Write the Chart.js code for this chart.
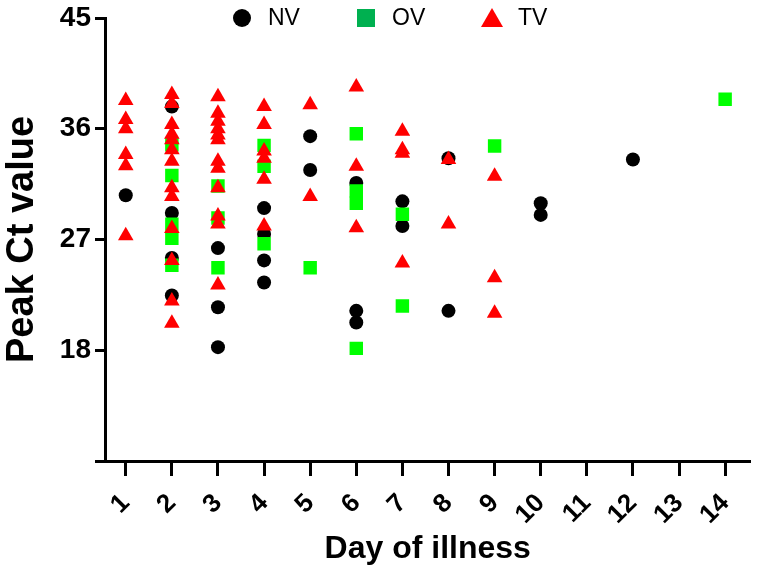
<!DOCTYPE html>
<html>
<head>
<meta charset="utf-8">
<script src="https://cdn.jsdelivr.net/npm/chart.js@4.4.1/dist/chart.umd.min.js"></script>
<style>
  html, body { margin: 0; padding: 0; background: #fff; }
</style>
</head>
<body>
<canvas id="ctChart" width="760" height="572"></canvas>
<script>
// days of illness on the x axis, peak Ct on y
var dayTicks = [1, 2, 3, 4, 5, 6, 7, 8, 9, 10, 11, 12, 13, 14];
var ctTicks = [9, 18, 27, 36, 45];

// NV
var nvDays = [1, 2, 2, 2, 2, 3, 3, 3, 4, 4, 4, 4, 5, 5, 6, 6, 6, 7, 7, 8, 8, 10, 10, 12];
var nvCt = [30.6, 37.8, 29.15, 25.5, 22.45, 26.3, 21.5, 18.25, 29.55, 27.45, 25.3, 23.5,
  35.4, 32.65, 31.6, 21.2, 20.25, 30.1, 28.1, 33.6, 21.2, 29.95, 29.0, 33.5];

// OV
var ovDays = [2, 2, 2, 2, 2, 3, 3, 3, 4, 4, 4, 5, 6, 6, 6, 6, 7, 7, 9, 14];
var ovCt = [34.7, 32.2, 28.25, 27.1, 24.9, 31.35, 28.75, 24.7, 34.65, 32.95, 26.65,
  24.7, 35.6, 30.95, 29.95, 18.15, 29.05, 21.6, 34.6, 38.4];

// TV
var tvDays = [1, 1, 1, 1, 1, 1,
  2, 2, 2, 2, 2, 2, 2, 2, 2, 2, 2, 2, 2,
  3, 3, 3, 3, 3, 3, 3, 3, 3, 3, 3, 3,
  4, 4, 4, 4, 4, 4, 5, 5, 6, 6, 6, 7, 7, 7, 7, 8, 8, 9, 9, 9];
var tvCt = [38.3, 36.75, 36.0, 33.9, 33.0, 27.3,
  38.78, 38.05, 36.35, 35.55, 35.1, 34.3, 33.35, 31.2, 30.5, 27.9, 25.3, 22.0, 20.2,
  38.6, 37.25, 36.6, 36.0, 35.5, 35.1, 33.35, 32.8, 31.2, 28.9, 28.25, 23.3,
  37.8, 36.35, 34.2, 33.6, 31.9, 28.1, 37.95, 30.5, 39.4, 32.95, 27.95,
  35.8, 34.3, 34.0, 25.1, 33.5, 28.25, 32.15, 23.9, 21.0];

function toPoints(days, values) {
  var pts = [];
  for (var i = 0; i < days.length; i++) {
    pts.push({ x: days[i], y: values[i] });
  }
  return pts;
}

var legendColors = ['#000000', '#00B050', '#FF0000'];

// legend drawn by hand: the built-in one can't sit inside the plot in a row
var topLegend = {
  id: 'topLegend',
  afterDraw: function(chart) {
    var c = chart.ctx;
    var markerX = [242, 366, 492];
    var y = 18;
    c.save();
    c.font = "23px 'Liberation Sans', Arial, sans-serif";
    c.textBaseline = 'middle';
    c.textAlign = 'left';
    chart.data.datasets.forEach(function(ds, i) {
      var x = markerX[i];
      c.fillStyle = legendColors[i];
      c.beginPath();
      if (ds.pointStyle === 'circle') {
        c.arc(x, y, 9, 0, Math.PI * 2);
      } else if (ds.pointStyle === 'rect') {
        c.rect(x - 9, y - 9, 18, 18);
      } else {
        c.moveTo(x, y - 10);
        c.lineTo(x + 11, y + 9);
        c.lineTo(x - 11, y + 9);
        c.closePath();
      }
      c.fill();
      c.fillStyle = '#000000';
      c.fillText(ds.label, x + 26, y + 1);
    });
    c.restore();
  }
};

var axisFont = { family: "'Liberation Sans', Arial, sans-serif", weight: 'bold' };

var ctx = document.getElementById("ctChart");
var ctChart = new Chart(ctx, {
  type: 'scatter',
  data: {
    datasets: [
      {
        label: 'NV',
        data: toPoints(nvDays, nvCt),
        pointStyle: 'circle',
        pointRadius: 7,
        backgroundColor: '#000000',
        borderColor: '#000000',
        borderWidth: 0,
        order: 2
      },
      {
        label: 'OV',
        data: toPoints(ovDays, ovCt),
        pointStyle: 'rect',
        pointRadius: 9.5,
        backgroundColor: '#00FF00',
        borderColor: '#00FF00',
        borderWidth: 0,
        order: 1
      },
      {
        label: 'TV',
        data: toPoints(tvDays, tvCt),
        pointStyle: 'triangle',
        pointRadius: 9,
        backgroundColor: '#FF0000',
        borderColor: '#FF0000',
        borderWidth: 0,
        order: 0
      }
    ]
  },
  options: {
    responsive: false,
    animation: false,
    layout: { padding: { top: 16, right: 6, left: 0, bottom: 0 } },
    plugins: {
      tooltip: { enabled: false },
      legend: { display: false }
    },
    scales: {
      x: {
        type: 'linear',
        min: 0.55,
        max: 14.55,
        afterBuildTicks: function(scale) {
          scale.ticks = dayTicks.map(function(v) { return { value: v }; });
        },
        afterFit: function(scale) { scale.height = 111; },
        grid: {
          display: true,
          drawOnChartArea: false,
          drawTicks: true,
          tickLength: 15,
          tickWidth: 3,
          tickColor: '#000000'
        },
        border: { display: true, width: 3, color: '#000000' },
        ticks: {
          color: '#000000',
          font: Object.assign({ size: 26 }, axisFont),
          minRotation: 45,
          maxRotation: 45,
          padding: 12
        },
        title: {
          display: true,
          text: 'Day of illness',
          color: '#000000',
          font: Object.assign({ size: 32 }, axisFont),
          padding: { top: 0, bottom: 4 }
        }
      },
      y: {
        min: 9,
        max: 45,
        afterBuildTicks: function(scale) {
          scale.ticks = ctTicks.map(function(v) { return { value: v }; });
        },
        afterFit: function(scale) { scale.width = 105; },
        grid: {
          display: true,
          drawOnChartArea: false,
          drawTicks: true,
          tickLength: 10,
          tickWidth: 3,
          tickColor: '#000000'
        },
        border: { display: true, width: 3, color: '#000000' },
        ticks: {
          color: '#000000',
          font: Object.assign({ size: 28, lineHeight: 1 }, axisFont),
          padding: 4,
          callback: function(value) { return value === 9 ? '' : value; }
        },
        title: {
          display: true,
          text: 'Peak Ct value',
          color: '#000000',
          font: Object.assign({ size: 38 }, axisFont),
          padding: { top: 0, bottom: 0 }
        }
      }
    }
  },
  plugins: [topLegend]
});
</script>
</body>
</html>
